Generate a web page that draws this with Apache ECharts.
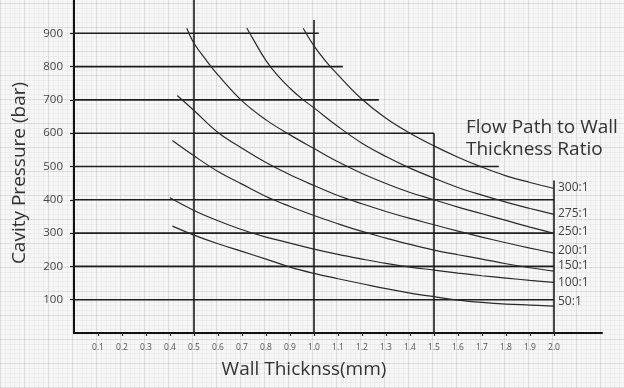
<!DOCTYPE html>
<html>
<head>
<meta charset="utf-8">
<script src="https://cdn.jsdelivr.net/npm/echarts@6/dist/echarts.min.js"></script>
<style>
html,body{margin:0;padding:0;}
body{
  width:624px;height:388px;overflow:hidden;
  background-color:#f6f6f6;
  background-image:
    repeating-linear-gradient(0deg, rgba(0,0,0,0.07) 0 1px, transparent 1px 24px),
    repeating-linear-gradient(90deg, rgba(0,0,0,0.07) 0 1px, transparent 1px 24px),
    repeating-linear-gradient(0deg, rgba(0,0,0,0.035) 0 1px, transparent 1px 4.8px),
    repeating-linear-gradient(90deg, rgba(0,0,0,0.035) 0 1px, transparent 1px 4.8px);
}
#chart{width:624px;height:388px;}
</style>
</head>
<body>
<div id="chart"></div>
<script>
// ---- data ----
const xTickValues = [0.1,0.2,0.3,0.4,0.5,0.6,0.7,0.8,0.9,1.0,1.1,1.2,1.3,1.4,1.5,1.6,1.7,1.8,1.9,2.0];
const yTickValues = [100,200,300,400,500,600,700,800,900];
const hLineValues = [100,200,300,400,500,600,700,800,900];
const hLineEnds   = [2.0,2.0,2.0,2.0,1.77,1.5,1.27,1.12,1.02];
const vLineX   = [0.5,1.0,1.5,2.0];
const vLineTop = [1000,940,600,458];
const ratioNames = ['300:1','275:1','250:1','200:1','150:1','100:1','50:1'];
const curve300 = [[0.955,915],[1.0,862],[1.05,815],[1.1,775],[1.2,702],[1.3,645],[1.4,600],[1.5,562],[1.6,528],[1.7,498],[1.8,472],[1.9,452],[2.0,434]];
const curve275 = [[0.72,916],[0.75,878],[0.8,818],[0.85,772],[0.9,735],[0.95,703],[1.0,676],[1.1,620],[1.2,570],[1.3,530],[1.4,495],[1.5,465],[1.6,437],[1.7,414],[1.8,393],[1.9,374],[2.0,356]];
const curve250 = [[0.47,915],[0.5,870],[0.55,820],[0.6,775],[0.7,697],[0.8,640],[0.9,595],[1.0,554],[1.1,514],[1.2,479],[1.3,449],[1.4,422],[1.5,400],[1.6,378],[1.7,358],[1.8,338],[1.9,318],[2.0,299]];
const curve200 = [[0.43,713],[0.5,668],[0.6,602],[0.7,555],[0.8,512],[0.9,475],[1.0,443],[1.1,413],[1.2,388],[1.3,365],[1.4,344],[1.5,325],[1.6,306],[1.7,288],[1.8,271],[1.9,255],[2.0,240]];
const curve150 = [[0.41,578],[0.5,532],[0.6,485],[0.7,447],[0.8,410],[0.9,380],[1.0,353],[1.1,328],[1.2,305],[1.3,285],[1.4,266],[1.5,249],[1.6,235],[1.7,222],[1.8,208],[1.9,196],[2.0,186]];
const curve100 = [[0.40,406],[0.5,368],[0.6,337],[0.7,310],[0.8,288],[0.9,270],[1.0,252],[1.1,236],[1.2,222],[1.3,209],[1.4,198],[1.5,189],[1.6,180],[1.7,172],[1.8,165],[1.9,158],[2.0,152]];
const curve50  = [[0.41,321],[0.5,294],[0.6,268],[0.7,245],[0.8,222],[0.9,198],[1.0,179],[1.1,163],[1.2,148],[1.3,133],[1.4,120],[1.5,109],[1.6,99],[1.7,92],[1.8,87],[1.9,84],[2.0,81]];
const curves = [curve300,curve275,curve250,curve200,curve150,curve100,curve50];
const labelDy = [-1,-1,-2,-3,-5,0,-4];

// ---- chart ----
const chart = echarts.init(document.getElementById('chart'), null, {renderer:'canvas'});
const FONT = "'Open Sans', 'Noto Sans', sans-serif";
const series = [];
hLineValues.forEach((v,i)=>{
  series.push({type:'line', silent:true, symbol:'none', animation:false,
    data:[[0,v],[hLineEnds[i],v]], lineStyle:{color:'#1e1e1e', width:1.6}});
});
vLineX.forEach((x,i)=>{
  series.push({type:'line', silent:true, symbol:'none', animation:false,
    data:[[x,0],[x,vLineTop[i]]], lineStyle:{color:'#1e1e1e', width:1.6}});
});
curves.forEach((c,i)=>{
  series.push({type:'line', name:ratioNames[i], silent:true, symbol:'none', smooth:0.4, animation:false,
    data:c, lineStyle:{color:'#2a2a2a', width:1.2},
    endLabel:{show:true, formatter:ratioNames[i], distance:4, offset:[0,labelDy[i]],
      color:'#444', fontSize:12, fontFamily:FONT}
  });
});

chart.setOption({
  animation:false,
  grid:{left:74, top:0, width:528, height:333, containLabel:false},
  xAxis:{type:'value', min:0, max:2.2, interval:0.1,
    axisLine:{show:true, onZero:false, lineStyle:{color:'#111', width:2}},
    axisTick:{show:true, length:3, customValues:xTickValues, lineStyle:{color:'#222', width:1.2}},
    axisLabel:{show:true, customValues:xTickValues, margin:10, fontSize:8.5, color:'#555', fontFamily:FONT,
      formatter:(v)=>v.toFixed(1)},
    splitLine:{show:false}},
  yAxis:{type:'value', min:0, max:1000, interval:100,
    axisLine:{show:true, onZero:false, lineStyle:{color:'#111', width:2}},
    axisTick:{show:true, length:4, customValues:yTickValues, lineStyle:{color:'#222', width:1.2}},
    axisLabel:{show:true, customValues:yTickValues, margin:11, fontSize:11.5, color:'#444', fontFamily:FONT},
    splitLine:{show:false}},
  graphic:[
    {type:'text', x:20, y:173, rotation:Math.PI/2,
      style:{text:'Cavity Pressure (bar)', fontSize:19, fill:'#333', fontFamily:FONT, align:'center', verticalAlign:'middle'}},
    {type:'text', x:304, y:370,
      style:{text:'Wall Thicknss(mm)', fontSize:19, fill:'#333', fontFamily:FONT, align:'center', verticalAlign:'middle'}},
    {type:'text', x:466, y:128,
      style:{text:'Flow Path to Wall', fontSize:19, fill:'#333', fontFamily:FONT, align:'left', verticalAlign:'middle'}},
    {type:'text', x:466, y:150,
      style:{text:'Thickness Ratio', fontSize:19, fill:'#333', fontFamily:FONT, align:'left', verticalAlign:'middle'}}
  ],
  series:series
});
</script>
</body>
</html>
